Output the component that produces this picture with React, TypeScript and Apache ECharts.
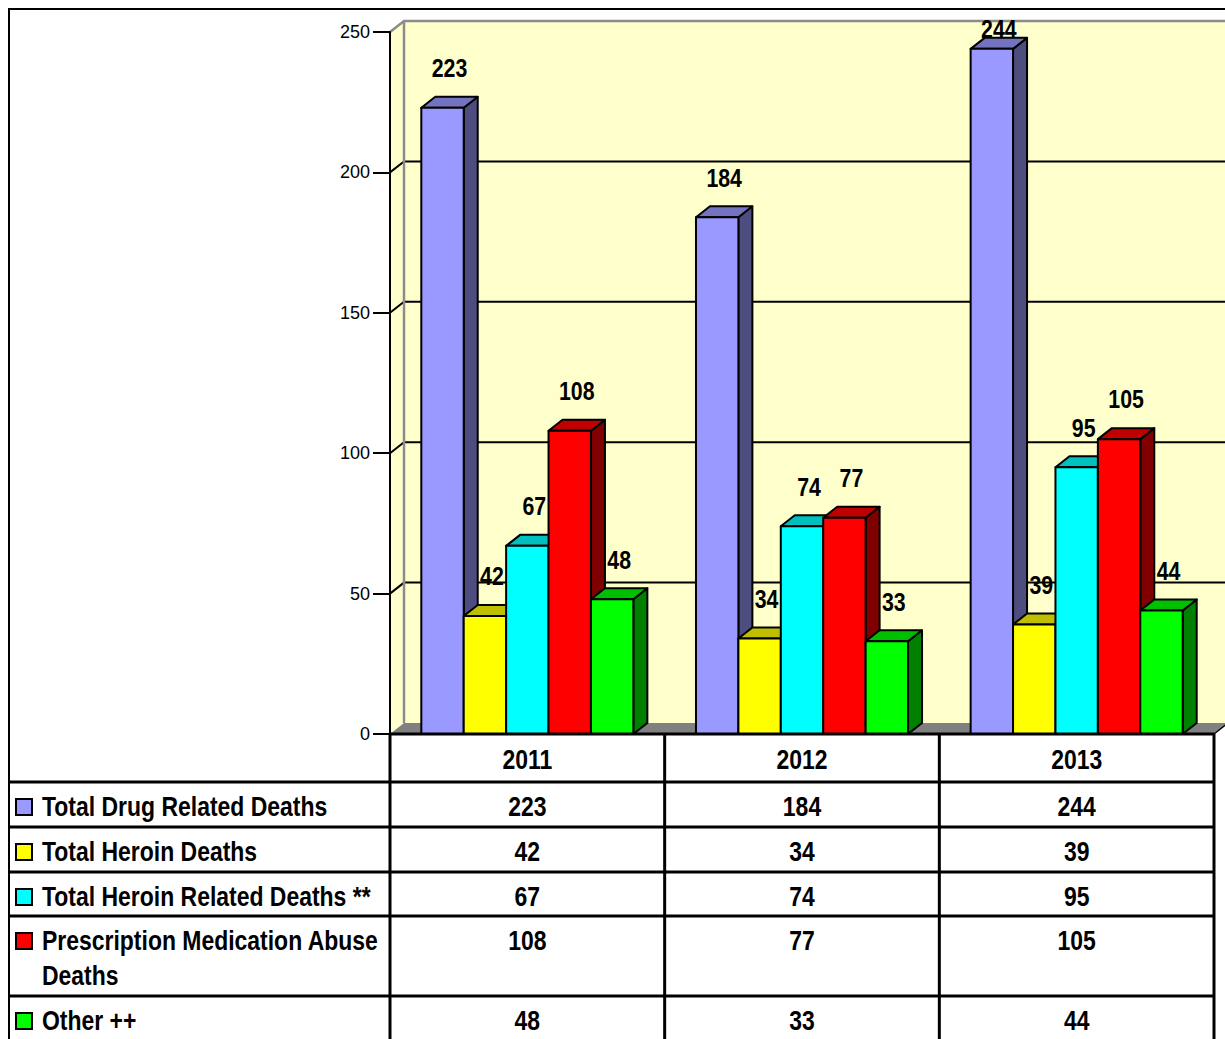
import React, { useEffect, useRef } from "react";
import * as echarts from "echarts";

// Years shown along the category axis and in the table header
const categories = ["2011", "2012", "2013"];

// Series names, in drawing order (left to right within each year)
const seriesNames = [
  "Total Drug Related Deaths",
  "Total Heroin Deaths",
  "Total Heroin Related Deaths **",
  "Prescription Medication Abuse Deaths",
  "Other ++",
];

// Death counts per year
const totalDrugDeaths = [223, 184, 244];
const heroinDeaths = [42, 34, 39];
const heroinRelatedDeaths = [67, 74, 95];
const prescriptionDeaths = [108, 77, 105];
const otherDeaths = [48, 33, 44];

const seriesValues = [
  totalDrugDeaths,
  heroinDeaths,
  heroinRelatedDeaths,
  prescriptionDeaths,
  otherDeaths,
];

// Value axis
const yMax = 250;
const yStep = 50;

// ---- styling / layout ----
const faceColors = ["#9999FF", "#FFFF00", "#00FFFF", "#FF0000", "#00FF00"];
const FONT = "'Liberation Sans', Arial, sans-serif";
const NARROW = 0.82; // horizontal squeeze that turns Arial metrics into a narrow face
const GRID = { left: 390, top: 32, width: 824, height: 702 };
const DX = 14; // 3D depth offset
const DY = -11;
const GROUP_FRACTION = 0.772;
const WALL_FILL = "#FFFFCC";
const FLOOR_FILL = "#808080";

// Table rows below the plot: header row, then one row per series
const rowEdges = [734, 782, 827, 872, 916, 996, 1041];
const TABLE_LEFT = 9;

function shade(hex: string, k: number): string {
  const n = parseInt(hex.slice(1), 16);
  const r = Math.round(((n >> 16) & 255) * k);
  const g = Math.round(((n >> 8) & 255) * k);
  const b = Math.round((n & 255) * k);
  return "rgb(" + r + "," + g + "," + b + ")";
}

// narrow bold text element anchored at (x, y)
function narrowText(text: string, x: number, y: number, size: number, align: string, vAlign: string, extra: any = {}) {
  return {
    type: "text",
    x,
    y,
    scaleX: NARROW,
    style: {
      text,
      x: 0,
      y: 0,
      align,
      verticalAlign: vAlign,
      fontSize: size,
      fontFamily: FONT,
      fontWeight: "bold",
      fill: "#000",
      ...extra,
    },
  };
}

function buildOption() {
  const nSeries = seriesValues.length;
  const gridRight = GRID.left + GRID.width;
  const colW = GRID.width / categories.length;

  // back wall, side wall, floor and gridlines of the 3D box
  const wallSeries = {
    type: "custom",
    z: 1,
    silent: true,
    clip: false,
    data: [[0, 0]],
    renderItem: (params: any, api: any) => {
      const cs = params.coordSys;
      const L = cs.x;
      const R = cs.x + cs.width;
      const T = cs.y;
      const B = cs.y + cs.height;
      const children: any[] = [
        {
          type: "rect",
          shape: { x: L + DX, y: T + DY, width: cs.width, height: cs.height },
          style: { fill: WALL_FILL },
        },
        {
          type: "polygon",
          shape: { points: [[L, B], [L, T], [L + DX, T + DY], [L + DX, B + DY]] },
          style: { fill: WALL_FILL },
        },
        {
          type: "polygon",
          shape: { points: [[L, B], [R, B], [R + DX, B + DY], [L + DX, B + DY]] },
          style: { fill: FLOOR_FILL },
        },
        {
          type: "line",
          shape: { x1: R, y1: B, x2: R + DX, y2: B + DY },
          style: { stroke: "#000", lineWidth: 1.5 },
        },
      ];
      for (let v = yStep; v < yMax; v += yStep) {
        const y = api.coord([0, v])[1];
        children.push({
          type: "polyline",
          shape: { points: [[L, y], [L + DX, y + DY], [R + DX, y + DY]] },
          style: { stroke: "#000", lineWidth: 2, fill: null },
        });
      }
      children.push({
        type: "polyline",
        shape: { points: [[L, T], [L + DX, T + DY], [R + DX + 40, T + DY]] },
        style: { stroke: "#8C8C8C", lineWidth: 2.5, fill: null },
      });
      children.push({
        type: "line",
        shape: { x1: L + DX, y1: T + DY, x2: L + DX, y2: B + DY },
        style: { stroke: "#8C8C8C", lineWidth: 2.5 },
      });
      return { type: "group", children };
    },
  };

  const barSeries = seriesValues.map((vals, k) => ({
    type: "custom",
    name: seriesNames[k],
    z: 2,
    clip: false,
    data: vals.map((v, i) => [i, v]),
    renderItem: (params: any, api: any) => {
      const ci = api.value(0);
      const v = api.value(1);
      const [cx, yTop] = api.coord([ci, v]);
      const yBase = api.coord([ci, 0])[1];
      const band = api.size([1, 0])[0];
      const groupW = band * GROUP_FRACTION;
      const barW = groupW / nSeries;
      const x0 = cx - groupW / 2 + k * barW;
      const x1 = x0 + barW;
      const color = faceColors[k];
      const stroke = { stroke: "#000", lineWidth: 2, lineJoin: "round" };
      const label: any = narrowText(
        String(v),
        x0 + barW / 2 + DX / 2,
        Math.max(yTop - 40, 29),
        26,
        "center",
        "middle"
      );
      label.z2 = 100;
      return {
        type: "group",
        children: [
          {
            type: "polygon",
            shape: { points: [[x1, yTop], [x1 + DX, yTop + DY], [x1 + DX, yBase + DY], [x1, yBase]] },
            style: { fill: shade(color, 0.5), ...stroke },
          },
          {
            type: "polygon",
            shape: { points: [[x0, yTop], [x1, yTop], [x1 + DX, yTop + DY], [x0 + DX, yTop + DY]] },
            style: { fill: shade(color, 0.75), ...stroke },
          },
          {
            type: "rect",
            shape: { x: x0, y: yTop, width: barW, height: yBase - yTop },
            style: { fill: color, ...stroke },
          },
          label,
        ],
      };
    },
  }));

  // data table under the plot
  const g: any[] = [];
  const lineStyle = { stroke: "#000", lineWidth: 3 };
  g.push({
    type: "line",
    shape: { x1: GRID.left, y1: rowEdges[0], x2: gridRight, y2: rowEdges[0] },
    style: lineStyle,
  });
  for (let r = 1; r < rowEdges.length - 1; r++) {
    g.push({
      type: "line",
      shape: { x1: TABLE_LEFT, y1: rowEdges[r], x2: gridRight, y2: rowEdges[r] },
      style: lineStyle,
    });
  }
  for (let c = 0; c <= categories.length; c++) {
    const x = GRID.left + c * colW;
    g.push({
      type: "line",
      shape: { x1: x, y1: rowEdges[0], x2: x, y2: 1045 },
      style: lineStyle,
    });
  }
  categories.forEach((cat, c) => {
    g.push(narrowText(cat, GRID.left + (c + 0.5) * colW, (rowEdges[0] + rowEdges[1]) / 2 + 1, 28, "center", "middle"));
  });
  seriesNames.forEach((name, s) => {
    const top = rowEdges[s + 1];
    g.push({
      type: "rect",
      shape: { x: 16, y: top + 17, width: 16, height: 16 },
      style: { fill: faceColors[s], stroke: "#000", lineWidth: 2 },
    });
    g.push(
      narrowText(name, 42, top + 6.5, 28, "left", "top", {
        width: 425,
        overflow: "break",
        lineHeight: 35,
      })
    );
    seriesValues[s].forEach((v, c) => {
      g.push(narrowText(String(v), GRID.left + (c + 0.5) * colW, top + 24, 28, "center", "middle"));
    });
  });
  // outer chart frame
  g.push({
    type: "rect",
    shape: { x: 9, y: 9, width: 1300, height: 1100 },
    style: { fill: null, stroke: "#000", lineWidth: 2 },
  });

  return {
    animation: false,
    backgroundColor: "#FFFFFF",
    grid: { left: GRID.left, top: GRID.top, width: GRID.width, height: GRID.height, containLabel: false },
    xAxis: {
      type: "category",
      data: categories,
      axisLine: { show: false },
      axisTick: { show: false },
      axisLabel: { show: false },
      splitLine: { show: false },
    },
    yAxis: {
      type: "value",
      min: 0,
      max: yMax,
      interval: yStep,
      z: 3,
      axisLine: { show: true, lineStyle: { color: "#000", width: 2 } },
      axisTick: { show: true, length: 17, lineStyle: { color: "#000", width: 2 } },
      axisLabel: { color: "#000", fontSize: 18, fontFamily: FONT, margin: 20 },
      splitLine: { show: false },
    },
    series: [wallSeries, ...barSeries],
    graphic: { elements: g.map((e) => ({ ...e, z: 10 })) },
  };
}

export default function App() {
  const ref = useRef<HTMLDivElement>(null);
  useEffect(() => {
    if (!ref.current) return;
    const chart = echarts.init(ref.current, undefined, { renderer: "svg" });
    chart.setOption(buildOption() as any);
    return () => chart.dispose();
  }, []);
  return (
    <div
      ref={ref}
      style={{ position: "fixed", left: 0, top: 0, width: 1225, height: 1039, background: "#fff" }}
    />
  );
}
